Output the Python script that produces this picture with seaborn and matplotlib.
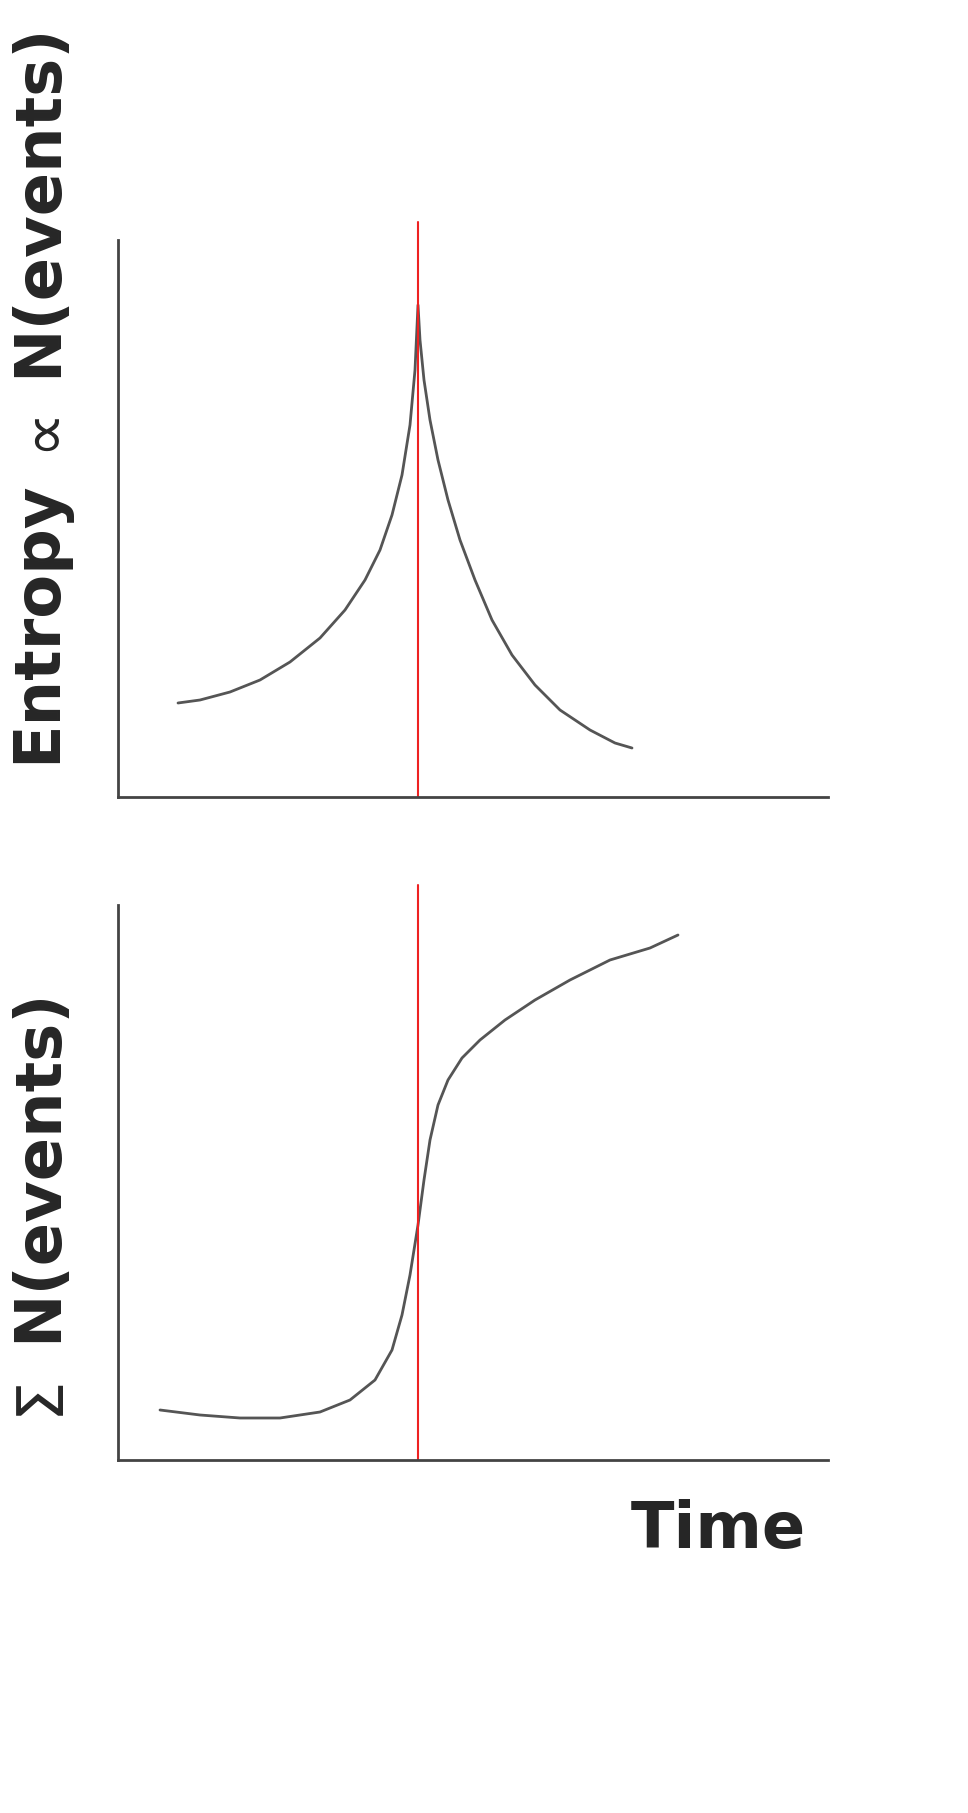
import matplotlib
matplotlib.use("Agg")
import matplotlib.pyplot as plt
import seaborn as sns
import pandas as pd

sns.set_theme(style="white")
plt.rcParams['font.family'] = ['DejaVu Sans']

# Top panel: entropy curve (time, value)
top_time = [60, 82, 112, 142, 172, 202, 227, 247, 262, 274, 284, 292, 297, 300,
            302, 306, 312, 320, 330, 342, 357, 374, 394, 417, 442, 472, 497, 514]
top_val = [94, 97, 105, 117, 135, 159, 187, 217, 247, 282, 322, 372, 427, 492,
           457, 417, 377, 337, 297, 257, 217, 177, 142, 112, 87, 67, 54, 49]
# Bottom panel: cumulative events
bot_time = [42, 82, 122, 162, 202, 232, 257, 274, 284, 292, 300, 306, 312, 320,
            330, 344, 362, 387, 417, 452, 492, 532, 560]
bot_val = [50, 45, 42, 42, 48, 60, 80, 110, 145, 185, 235, 280, 320, 355,
           380, 402, 420, 440, 460, 480, 500, 512, 525]
event_time = 300

fig = plt.figure(figsize=(9.68, 18.13), dpi=100)
W, H = 968, 1813
ax1 = fig.add_axes([118 / W, 1 - 797 / H, 710 / W, 557 / H])
ax2 = fig.add_axes([118 / W, 1 - 1460 / H, 710 / W, 555 / H])

for ax, t, v, top in [(ax1, top_time, top_val, 1.032), (ax2, bot_time, bot_val, 1.036)]:
    df = pd.DataFrame({"t": t, "v": v})
    sns.lineplot(data=df, x="t", y="v", ax=ax, color="#555555", lw=2, sort=False)
    ax.axvline(event_time, ymin=0, ymax=top, color="#ee2222", lw=1.5, clip_on=False)
    ax.set_xlim(0, 710)
    ax.set_xticks([]); ax.set_yticks([])
    ax.set_xlabel(""); ax.set_ylabel("")
    for s in ["top", "right"]:
        ax.spines[s].set_visible(False)
    for s in ["left", "bottom"]:
        ax.spines[s].set_color("#444444")
        ax.spines[s].set_linewidth(2)
ax1.set_ylim(0, 557)
ax2.set_ylim(0, 555)

fs = 46
fig.text(38 / W, 1 - 622 / H, "Entropy", rotation=90, fontsize=fs, fontweight="bold", ha="center", va="center")
fig.text(42 / W, 1 - 428 / H, "∝", rotation=90, fontsize=fs, ha="center", va="center", style="italic")
fig.text(38 / W, 1 - 200 / H, "N(events)", rotation=90, fontsize=fs, fontweight="bold", ha="center", va="center")
fig.text(40 / W, 1 - 1395 / H, "Σ", rotation=90, fontsize=fs, ha="center", va="center")
fig.text(38 / W, 1 - 1165 / H, "N(events)", rotation=90, fontsize=fs, fontweight="bold", ha="center", va="center")
fig.text(718 / W, 1 - 1530 / H, "Time", fontsize=fs, fontweight="bold", ha="center", va="center")

fig.savefig("out.png", dpi=100)
